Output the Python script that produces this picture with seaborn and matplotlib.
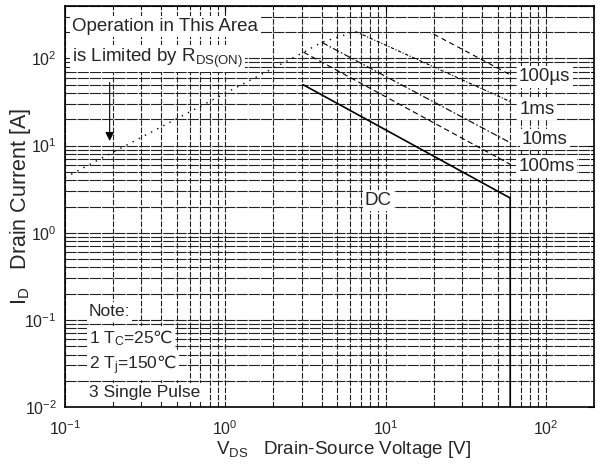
import numpy as np
import pandas as pd
import matplotlib
matplotlib.use("Agg")
import matplotlib.pyplot as plt
import seaborn as sns
from matplotlib.ticker import LogLocator, NullFormatter

# ---- data ----
rds_v = [0.1, 0.7, 3.06, 4.0, 6.5]
rds_i = [4.3, 28.3, 117, 153, 204]
p100us_v = [20, 60]
p100us_i = [190, 65]
p1ms_v = [6.5, 60]
p1ms_i = [204, 32]
p10ms_v = [4.0, 60]
p10ms_i = [153, 10.8]
p100ms_v = [3.08, 60]
p100ms_i = [118, 6.1]
dc_v = [3.06, 60, 60]
dc_i = [50, 2.5, 0.01]

series_names = ["RDS", "100us", "1ms", "10ms", "100ms", "DC"]
curve_labels = ["100µs", "1ms", "10ms", "100ms"]

sns.set_style("white")
plt.rcParams["font.family"] = ["Liberation Sans", "DejaVu Sans"]
plt.rcParams["mathtext.fontset"] = "custom"
plt.rcParams["mathtext.rm"] = "Liberation Sans"
plt.rcParams["mathtext.it"] = "Liberation Sans:italic"
plt.rcParams["mathtext.bf"] = "Liberation Sans:bold"
plt.rcParams["mathtext.sf"] = "DejaVu Sans"
plt.rcParams["axes.unicode_minus"] = False

frames = []
for name, v, i in zip(series_names,
                      [rds_v, p100us_v, p1ms_v, p10ms_v, p100ms_v, dc_v],
                      [rds_i, p100us_i, p1ms_i, p10ms_i, p100ms_i, dc_i]):
    frames.append(pd.DataFrame({"V": v, "I": i, "series": name}))
df = pd.concat(frames, ignore_index=True)

dash_map = {"RDS": (1, 4), "100us": (4.5, 3.5), "1ms": (3, 1.5, 1, 1.5),
            "10ms": (6, 2, 1.5, 2), "100ms": (5, 3), "DC": ""}
size_map = {"RDS": 1.0, "100us": 0.8, "1ms": 0.8, "10ms": 0.8, "100ms": 0.8, "DC": 1.2}

fig = plt.figure(figsize=(5.97, 4.66), dpi=100)
ax = fig.add_axes([65 / 597, 59 / 466, 529 / 597, 401 / 466])
ax.set_xscale("log")
ax.set_yscale("log")

sns.lineplot(data=df, x="V", y="I", style="series", size="series",
             dashes=dash_map, sizes=size_map, color="black",
             estimator=None, sort=False, legend=False, ax=ax, zorder=3)

ax.set_xlim(0.1, 200)
ax.set_ylim(0.01, 400)

for axis in (ax.xaxis, ax.yaxis):
    axis.set_major_locator(LogLocator(base=10, numticks=20))
    axis.set_minor_locator(LogLocator(base=10, subs=np.arange(2, 10), numticks=100))
    axis.set_minor_formatter(NullFormatter())

ax.grid(which="both", axis="x", linestyle=(0, (5, 1.5)), color="#222222", lw=0.8)
ax.grid(which="both", axis="y", linestyle=(0, (10, 1)), color="#222222", lw=0.8)
ax.set_axisbelow(True)

ax.tick_params(which="both", direction="in", top=True, right=True, color="black")
ax.tick_params(which="major", length=4, width=0.8, labelsize=11.5)
ax.tick_params(which="minor", length=2, width=0.6)
ax.tick_params(axis="x", pad=9)
ax.tick_params(axis="y", pad=6)
for s in ax.spines.values():
    s.set_color("black")
    s.set_linewidth(1.2)
    s.set_visible(True)

ax.set_xlabel(r"V$_{\mathrm{DS}}$   Drain-Source Voltage [V]", fontsize=13.5)
ax.set_ylabel(r"I$_{\mathrm{D}}$   Drain Current [A]", fontsize=15.5)
ax.xaxis.set_label_coords(0.526, -0.08)
ax.yaxis.set_label_coords(-0.06, 0.5)

box = dict(facecolor="white", edgecolor="none", pad=1.5)
ax.text(0.013, 0.948, "Operation in This Area", transform=ax.transAxes,
        ha="left", va="center", fontsize=13.5, bbox=box, zorder=5)
ax.text(0.013, 0.869, r"is Limited by R$_{\mathrm{DS(ON)}}$", transform=ax.transAxes,
        ha="left", va="center", fontsize=13.5, bbox=box, zorder=5)
ax.annotate("", xy=(0.19, 10.5), xytext=(0.19, 57),
            arrowprops=dict(arrowstyle="-|>", color="black", lw=0.8, mutation_scale=13),
            zorder=5)

pos = [(0.907, 0.823), (0.892, 0.743), (0.907, 0.668), (0.910, 0.599)]
for lab, (x, y) in zip(curve_labels, pos):
    ax.text(x, y, lab, transform=ax.transAxes, ha="center", va="center",
            fontsize=13.5, bbox=box, zorder=5)
ax.text(0.592, 0.516, "DC", transform=ax.transAxes, ha="center", va="center",
        fontsize=13.5, bbox=box, zorder=5)

notes = ["Note:", r"1 T$_{\mathrm{C}}$=25$\mathsf{℃}$",
         r"2 T$_{\mathrm{j}}$=150$\mathsf{℃}$", "3 Single Pulse"]
ny = [0.237, 0.172, 0.105, 0.037]
for t, y in zip(notes, ny):
    ax.text(0.045, y, t, transform=ax.transAxes, ha="left", va="center",
            fontsize=12.5, bbox=box, zorder=5)

fig.savefig("out.png", dpi=100)
